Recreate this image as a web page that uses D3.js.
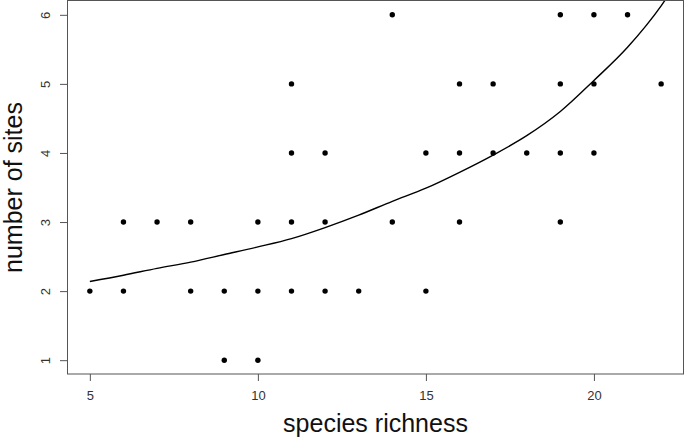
<!DOCTYPE html>
<html>
<head>
<meta charset="utf-8">
<script src="https://cdn.jsdelivr.net/npm/d3@7"></script>
<style>
    body { margin: 0; background: #fff; }
    text { font-family: "Liberation Sans", Arial, sans-serif; }
</style>
</head>
<body>
<svg id="chart" width="685" height="437"></svg>
<script>
// observed points: species richness vs number of sites
let richness = [5, 6, 6, 7, 8, 8, 9, 9, 10, 10, 10, 11, 11, 11, 11, 12, 12, 12, 13, 14, 14,
    15, 15, 16, 16, 16, 17, 17, 18, 19, 19, 19, 19, 20, 20, 20, 21, 22];
let sites = [2, 3, 2, 3, 3, 2, 2, 1, 3, 2, 1, 5, 4, 3, 2, 4, 3, 2, 2, 6, 3,
    4, 2, 5, 4, 3, 5, 4, 4, 6, 5, 4, 3, 6, 5, 4, 6, 5];

// fitted curve
let fitX = [5, 6, 7, 8, 9, 10, 11, 12, 13, 14, 15, 16, 17, 18, 19, 20, 21, 22, 23];
let fitY = [2.14, 2.23, 2.33, 2.42, 2.53, 2.64, 2.76, 2.92, 3.10, 3.30, 3.49, 3.72, 3.97, 4.25, 4.60, 5.05, 5.53, 6.13, 6.9];

let xTicks = [5, 10, 15, 20];
let yTicks = [1, 2, 3, 4, 5, 6];

let svg = d3.select("#chart");
let plotLeft = 67, plotRight = 684, plotTop = 1, plotBottom = 374;

let x = d3.scaleLinear().domain([4.32, 22.68]).range([plotLeft, plotRight]);
let y = d3.scaleLinear().domain([0.8, 6.2]).range([plotBottom, plotTop]);

svg.append("clipPath").attr("id", "clip")
    .append("rect")
    .attr("x", plotLeft).attr("y", plotTop)
    .attr("width", plotRight - plotLeft).attr("height", plotBottom - plotTop);

// x axis
let xAxis = svg.append("g")
    .attr("transform", `translate(0, ${plotBottom})`)
    .call(d3.axisBottom(x).tickValues(xTicks).tickSize(7).tickPadding(10).tickFormat(d3.format("d")));
xAxis.select(".domain").remove();
xAxis.selectAll("line").attr("stroke", "#555");
xAxis.selectAll("text")
    .style("font-size", "13px")
    .attr("fill", "#333");

// y axis with rotated labels
let yAxis = svg.append("g")
    .attr("transform", `translate(${plotLeft}, 0)`)
    .call(d3.axisLeft(y).tickValues(yTicks).tickSize(7).tickFormat(d3.format("d")));
yAxis.select(".domain").remove();
yAxis.selectAll("line").attr("stroke", "#555");
yAxis.selectAll("text")
    .style("font-size", "13px")
    .attr("fill", "#333")
    .attr("x", null).attr("dy", null)
    .attr("text-anchor", "middle")
    .attr("transform", "translate(-17, 0) rotate(-90)");

// plot frame
svg.append("rect")
    .attr("x", plotLeft + 0.5).attr("y", plotTop - 0.5)
    .attr("width", plotRight - plotLeft - 1).attr("height", plotBottom - plotTop + 0.5)
    .attr("fill", "none")
    .attr("stroke", "#555")
    .attr("stroke-width", 1);

// fitted curve
svg.append("path")
    .datum(fitX.map((d, i) => [d, fitY[i]]))
    .attr("clip-path", "url(#clip)")
    .attr("fill", "none")
    .attr("stroke", "#000")
    .attr("stroke-width", 1.4)
    .attr("d", d3.line()
        .curve(d3.curveMonotoneX)
        .x(function(d) { return x(d[0]); })
        .y(function(d) { return y(d[1]); }));

// points
svg.selectAll("circle.pt")
    .data(richness)
    .enter().append("circle")
        .attr("class", "pt")
        .attr("cx", function(d) { return x(d); })
        .attr("cy", function(d, i) { return y(sites[i]); })
        .attr("r", 2.7)
        .attr("fill", "#000");

// axis titles
svg.append("text")
    .attr("x", (plotLeft + plotRight) / 2)
    .attr("y", 432)
    .attr("text-anchor", "middle")
    .style("font-size", "25px")
    .attr("fill", "#111")
    .text("species richness");

svg.append("text")
    .attr("transform", `translate(22, ${(plotTop + plotBottom) / 2}) rotate(-90)`)
    .attr("text-anchor", "middle")
    .style("font-size", "25px")
    .attr("fill", "#111")
    .text("number of sites");
</script>
</body>
</html>
